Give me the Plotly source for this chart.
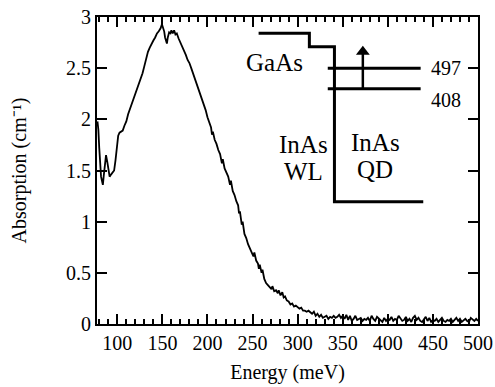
import plotly.graph_objects as go

energy_meV = [
    78, 79, 80, 81, 82, 83, 84, 85, 86, 87.5, 89, 90, 91.5, 93, 95, 96.5, 98, 99.5,
    101, 102.5, 104, 106, 108, 110, 112, 114, 116, 118, 120, 122, 124, 126, 128, 130,
    132, 134, 136, 138, 140, 142, 144, 146, 148, 149.5, 150.5, 152, 153, 154, 155, 156,
    157.5, 159, 160, 161.5, 163, 164.5, 166, 168, 170, 172, 174, 176, 178, 180, 182,
    184, 186, 188, 190, 192, 194, 196, 198, 200, 202, 204, 205, 206, 208, 210, 212,
    214, 216, 217, 219, 221, 223, 225, 226, 228, 230, 232, 234, 235, 236, 238, 239,
    241, 243, 245, 247, 249, 251, 252, 254, 256, 257, 258, 260, 261, 263, 265, 267,
    269, 271, 272, 274, 276, 278, 279, 281, 283, 284.5, 286, 288, 290, 292, 294, 296,
    298, 300, 302, 304, 306, 308, 310, 312, 314, 316, 318, 320, 322, 324, 326, 328,
    330, 332, 334, 336, 338, 340, 342, 344, 346, 348, 350, 352, 354, 356, 358, 360,
    362, 364, 366, 368, 370, 372, 374, 376, 378, 380, 382, 384, 386, 388, 390, 392,
    394, 396, 398, 400, 402, 404, 406, 408, 410, 412, 414, 416, 418, 420, 422, 424,
    426, 428, 430, 432, 434, 436, 438, 440, 442, 444, 446, 448, 450, 452, 454, 456,
    458, 460, 462, 464, 466, 468, 470, 472, 474, 476, 478, 480, 482, 484, 486, 488,
    490, 492, 494, 496, 498, 500,
]
absorption = [
    1.98, 1.90, 1.72, 1.55, 1.44, 1.40, 1.36, 1.45, 1.56, 1.65, 1.58, 1.50, 1.44, 1.46, 1.48, 1.50, 1.60, 1.72,
    1.84, 1.87, 1.88, 1.89, 1.94, 1.98, 2.05, 2.10, 2.15, 2.20, 2.24, 2.29, 2.34, 2.38, 2.45, 2.52,
    2.60, 2.66, 2.70, 2.74, 2.77, 2.80, 2.84, 2.86, 2.89, 2.93, 2.90, 2.86, 2.80, 2.76, 2.74, 2.80,
    2.85, 2.84, 2.87, 2.84, 2.87, 2.83, 2.84, 2.79, 2.75, 2.72, 2.67, 2.63, 2.58, 2.55, 2.50,
    2.45, 2.38, 2.34, 2.29, 2.25, 2.20, 2.14, 2.09, 2.02, 1.97, 1.92, 1.85, 1.88, 1.80, 1.76, 1.70,
    1.66, 1.57, 1.61, 1.52, 1.47, 1.44, 1.36, 1.40, 1.30, 1.26, 1.20, 1.16, 1.08, 1.10, 0.97, 1.00,
    0.88, 0.84, 0.78, 0.73, 0.70, 0.66, 0.70, 0.62, 0.59, 0.54, 0.58, 0.50, 0.53, 0.44, 0.40, 0.38,
    0.36, 0.34, 0.37, 0.32, 0.33, 0.30, 0.33, 0.28, 0.31, 0.26, 0.27, 0.23, 0.22, 0.19, 0.20, 0.17,
    0.18, 0.16, 0.15, 0.16, 0.13, 0.13, 0.12, 0.13, 0.11, 0.10, 0.12, 0.08, 0.10, 0.07, 0.09, 0.06,
    0.07, 0.08, 0.05, 0.07, 0.06, 0.08, 0.06, 0.07, 0.09, 0.06, 0.08, 0.05, 0.09, 0.04, 0.08, 0.03,
    0.05, 0.08, 0.04, 0.05, 0.06, 0.03, 0.05, 0.04, 0.06, 0.03, 0.08, 0.05, 0.03, 0.07, 0.05, 0.04,
    0.02, 0.06, 0.03, 0.05, 0.04, 0.07, 0.03, 0.05, 0.04, 0.08, 0.05, 0.03, 0.04, 0.07, 0.03, 0.05,
    0.02, 0.06, 0.08, 0.04, 0.06, 0.03, 0.02, 0.05, 0.07, 0.03, 0.06, 0.02, 0.04, 0.03, 0.05, 0.02,
    0.04, 0.06, 0.03, 0.02, 0.04, 0.03, 0.05, 0.02, 0.04, 0.06, 0.03, 0.05, 0.02, 0.04, 0.05, 0.03,
    0.02, 0.06, 0.04, 0.03, 0.05, 0.03,
]

# Inset band diagram (data coordinates)
band_x = [256.7, 313.0, 313.0, 340.8, 340.8, 439.3]
band_y = [2.84, 2.84, 2.71, 2.71, 1.195, 1.195]
level_x = [333.4, 436.4]
level_497_y = 2.50
level_408_y = 2.30
arrow_x = 372.3
arrow_y = [2.30, 2.73]

FONT = "Liberation Serif"

fig = go.Figure()
fig.add_trace(go.Scatter(x=energy_meV, y=absorption, mode="lines",
                         line=dict(color="black", width=1.8), showlegend=False))
fig.add_trace(go.Scatter(x=band_x, y=band_y, mode="lines",
                         line=dict(color="black", width=3), showlegend=False))
for ly in (level_497_y, level_408_y):
    fig.add_trace(go.Scatter(x=level_x, y=[ly, ly], mode="lines",
                             line=dict(color="black", width=3), showlegend=False))
fig.add_trace(go.Scatter(x=[arrow_x, arrow_x], y=[arrow_y[0], arrow_y[1] - 0.06], mode="lines",
                         line=dict(color="black", width=2.5), showlegend=False))
fig.add_trace(go.Scatter(x=[arrow_x], y=[arrow_y[1] - 0.07], mode="markers",
                         marker=dict(symbol="triangle-up", size=12, color="black"),
                         showlegend=False))

fig.add_annotation(x=274.4, y=2.56, text="GaAs", showarrow=False,
                   font=dict(family=FONT, size=25, color="black"))
fig.add_annotation(x=445.5, y=2.50, text="497", showarrow=False, xanchor="left",
                   font=dict(family=FONT, size=20, color="black"))
fig.add_annotation(x=445.5, y=2.19, text="408", showarrow=False, xanchor="left",
                   font=dict(family=FONT, size=20, color="black"))
fig.add_annotation(x=306.4, y=1.75, text="InAs", showarrow=False,
                   font=dict(family=FONT, size=25, color="black"))
fig.add_annotation(x=306.4, y=1.49, text="WL", showarrow=False,
                   font=dict(family=FONT, size=25, color="black"))
fig.add_annotation(x=385.8, y=1.77, text="InAs", showarrow=False,
                   font=dict(family=FONT, size=25, color="black"))
fig.add_annotation(x=385.8, y=1.51, text="QD", showarrow=False,
                   font=dict(family=FONT, size=25, color="black"))

fig.update_xaxes(range=[77.5, 500], dtick=50, ticks="inside", ticklen=10, tickwidth=1.5,
                 tickcolor="black", showline=True, linecolor="black", linewidth=2,
                 mirror="ticks", automargin=False,
                 minor=dict(dtick=10, ticks="inside", ticklen=5, tickwidth=1.5,
                            tickcolor="black", showgrid=False),
                 tickfont=dict(family=FONT, size=20, color="black"),
                 title_text="Energy (meV)", title_standoff=12,
                 title_font=dict(family=FONT, size=20, color="black"))
fig.update_yaxes(range=[0, 3], dtick=0.5, ticks="inside", ticklen=10, tickwidth=1.5,
                 tickcolor="black", showline=True, linecolor="black", linewidth=2,
                 mirror="ticks", automargin=False,
                 tickfont=dict(family=FONT, size=20, color="black"),
                 title_text="Absorption (cm⁻¹)", title_standoff=34,
                 title_font=dict(family=FONT, size=20, color="black"))

fig.update_layout(width=495, height=387, margin=dict(l=97, r=17, t=17, b=63),
                  paper_bgcolor="white", plot_bgcolor="white")

fig.write_html("out.html")
